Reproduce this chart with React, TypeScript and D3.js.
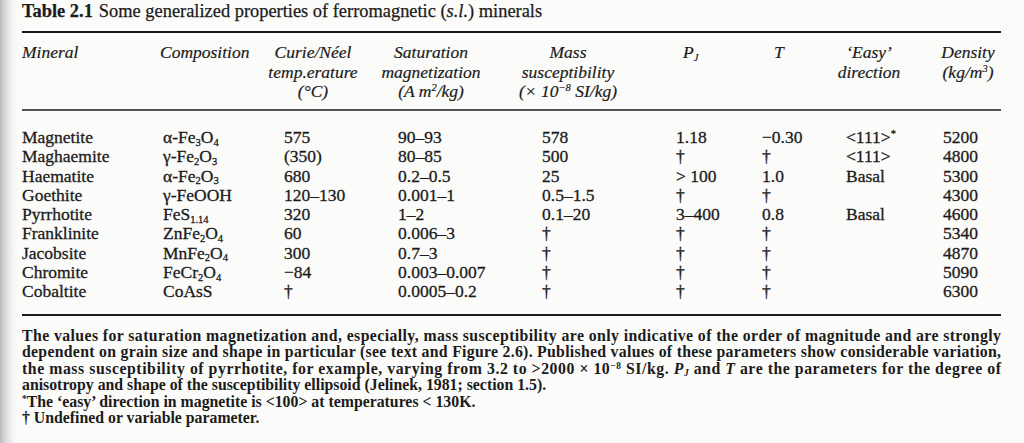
import React from "react";
import * as d3 from "d3";

// ---------- data ----------
const minerals = ["Magnetite", "Maghaemite", "Haematite", "Goethite", "Pyrrhotite", "Franklinite", "Jacobsite", "Chromite", "Cobaltite"];
const compositions = ["α-Fe_3O_4", "γ-Fe_2O_3", "α-Fe_2O_3", "γ-FeOOH", "FeS_{1.14}", "ZnFe_2O_4", "MnFe_2O_4", "FeCr_2O_4", "CoAsS"];
const curieTemps = ["575", "(350)", "680", "120–130", "320", "60", "300", "−84", "†"];
const saturationMag = ["90–93", "80–85", "0.2–0.5", "0.001–1", "1–2", "0.006–3", "0.7–3", "0.003–0.007", "0.0005–0.2"];
const massSusc = ["578", "500", "25", "0.5–1.5", "0.1–20", "†", "†", "†", "†"];
const pjValues = ["1.18", "†", "> 100", "†", "3–400", "†", "†", "†", "†"];
const tValues = ["−0.30", "†", "1.0", "†", "0.8", "†", "†", "†", "†"];
const easyDir = ["<111>^*", "<111>", "Basal", "", "Basal", "", "", "", ""];
const densities = ["5200", "4800", "5300", "4300", "4600", "5340", "4870", "5090", "6300"];

const titleBold = "Table 2.1";
const titleText = ["Some generalized properties of ferromagnetic (", "s.l.", ") minerals"];

const headerLines: Record<string, string[]> = {
  mineral: ["Mineral"],
  comp: ["Composition"],
  curie: ["Curie/Néel", "temp.erature", "(°C)"],
  sat: ["Saturation", "magnetization", "(A m^2/kg)"],
  mass: ["Mass", "susceptibility", "(× 10^{−8} SI/kg)"],
  pj: ["P_J"],
  t: ["T"],
  easy: ["‘Easy’", "direction"],
  dens: ["Density", "(kg/m^3)"],
};

const footnotes = [
  "The values for saturation magnetization and, especially, mass susceptibility are only indicative of the order of magnitude and are strongly",
  "dependent on grain size and shape in particular (see text and Figure 2.6). Published values of these parameters show considerable variation,",
  "the mass susceptibility of pyrrhotite, for example, varying from 3.2 to >2000 × 10^{−8} SI/kg. |P_J| and |T| are the parameters for the degree of",
  "anisotropy and shape of the susceptibility ellipsoid (Jelinek, 1981; section 1.5).",
  "^*The ‘easy’ direction in magnetite is <100> at temperatures < 130K.",
  "† Undefined or variable parameter.",
];

// ---------- layout ----------
const W = 1024, H = 443;
const LEFT = 22, RIGHT = 1001;
const FONT = "'Liberation Serif', 'Times New Roman', serif";
const INK = "#1b1b1b";

type Seg = { t: string; sub?: boolean; sup?: boolean; it?: boolean };

// mini markup: _X or _{..} subscript, ^X or ^{..} superscript, |..| italic
function parse(s: string): Seg[] {
  const out: Seg[] = [];
  let buf = "";
  let italic = false;
  const flush = () => { if (buf) { out.push({ t: buf, it: italic }); buf = ""; } };
  for (let i = 0; i < s.length; i++) {
    const c = s[i];
    if (c === "|") { flush(); italic = !italic; continue; }
    if (c === "_" || c === "^") {
      flush();
      let txt = "";
      if (s[i + 1] === "{") {
        const j = s.indexOf("}", i + 2);
        txt = s.slice(i + 2, j);
        i = j;
      } else { txt = s[i + 1]; i += 1; }
      out.push({ t: txt, sub: c === "_", sup: c === "^", it: italic });
      continue;
    }
    buf += c;
  }
  flush();
  return out;
}

function Rich({ s, x, y, size, anchor = "start", italic = false, weight = "normal", textLength, heavy = 0 }: any) {
  const segs = parse(s);
  let shift = 0;
  return (
    <text x={x} y={y} fontSize={size} textAnchor={anchor} fontStyle={italic ? "italic" : "normal"} fontWeight={weight} fill={INK}
      stroke={heavy ? INK : undefined} strokeWidth={heavy || undefined}
      {...(textLength ? { textLength, lengthAdjust: "spacing" } : {})}>
      {segs.map((g, i) => {
        const target = g.sub ? size * 0.16 : g.sup ? -size * 0.32 : 0;
        const dy = target - shift;
        shift = target;
        return (
          <tspan key={i} dy={dy || undefined} fontSize={g.sub || g.sup ? size * 0.6 : undefined}
            fontStyle={g.it ? "italic" : undefined}>{g.t}</tspan>
        );
      })}
    </text>
  );
}

export default function App() {
  const rowY = d3.scalePoint<string>().domain(minerals).range([143, 297]);
  const headY = d3.scaleLinear().domain([0, 2]).range([58, 97]);
  const footY = d3.scaleLinear().domain([0, footnotes.length - 1]).range([341, 423]);

  const colKeys = ["mineral", "comp", "curie", "sat", "mass", "pj", "t", "easy", "dens"];
  const dataX = d3.scaleOrdinal<string, number>().domain(colKeys).range([LEFT, 163, 284, 398, 542, 676, 762, 846, 943]);
  const headX = d3.scaleOrdinal<string, number>().domain(colKeys).range([LEFT, 160, 313, 431, 568, 683, 774, 869, 968]);
  const headAnchor: Record<string, string> = { mineral: "start", comp: "start", curie: "middle", sat: "middle", mass: "middle", pj: "start", t: "start", easy: "middle", dens: "middle" };

  const columns: [string, string[]][] = [
    ["mineral", minerals], ["comp", compositions], ["curie", curieTemps], ["sat", saturationMag],
    ["mass", massSusc], ["pj", pjValues], ["t", tValues], ["easy", easyDir], ["dens", densities],
  ];

  const footLen = [RIGHT - LEFT, RIGHT - LEFT, RIGHT - LEFT, null, null, null];

  return (
    <svg width={W} height={H} style={{ position: "absolute", left: 0, top: 0, fontFamily: FONT }}>
      <defs>
        <linearGradient id="edge" x1="0" x2="1" y1="0" y2="0">
          <stop offset="0" stopColor="#b9b9b9" />
          <stop offset="1" stopColor="#fbfbfb" stopOpacity="0" />
        </linearGradient>
      </defs>
      <rect width={W} height={H} fill="#fbfbfa" />
      <rect width={20} height={H} fill="url(#edge)" />

      {/* title */}
      <text x={LEFT} y={17} fontSize={18.4} fill={INK} stroke={INK} strokeWidth={0.25}>
        <tspan fontWeight="bold">{titleBold}</tspan>
        <tspan dx={6}>{titleText[0]}</tspan>
        <tspan fontStyle="italic">{titleText[1]}</tspan>
        <tspan>{titleText[2]}</tspan>
      </text>

      {/* rules */}
      <line x1={LEFT} x2={RIGHT} y1={32} y2={32} stroke={INK} strokeWidth={2} />
      <line x1={LEFT} x2={RIGHT} y1={110} y2={110} stroke={INK} strokeWidth={1.5} />
      <line x1={LEFT} x2={RIGHT} y1={315} y2={315} stroke={INK} strokeWidth={2} />

      {/* headers */}
      {colKeys.map((k) =>
        headerLines[k].map((ln, i) => (
          <Rich key={k + i} s={ln} x={headX(k)} y={headY(i)} size={17.5} italic anchor={headAnchor[k]} heavy={0.2} />
        ))
      )}

      {/* body */}
      {columns.map(([k, vals]) =>
        vals.map((v, i) => (
          <Rich key={k + i} s={v} x={dataX(k)} y={rowY(minerals[i])} size={17.5} heavy={0.3} />
        ))
      )}

      {/* footnotes */}
      {footnotes.map((f, i) => (
        <Rich key={"f" + i} s={f} x={LEFT} y={footY(i)} size={15.8} weight="bold" textLength={footLen[i] || undefined} />
      ))}
    </svg>
  );
}
